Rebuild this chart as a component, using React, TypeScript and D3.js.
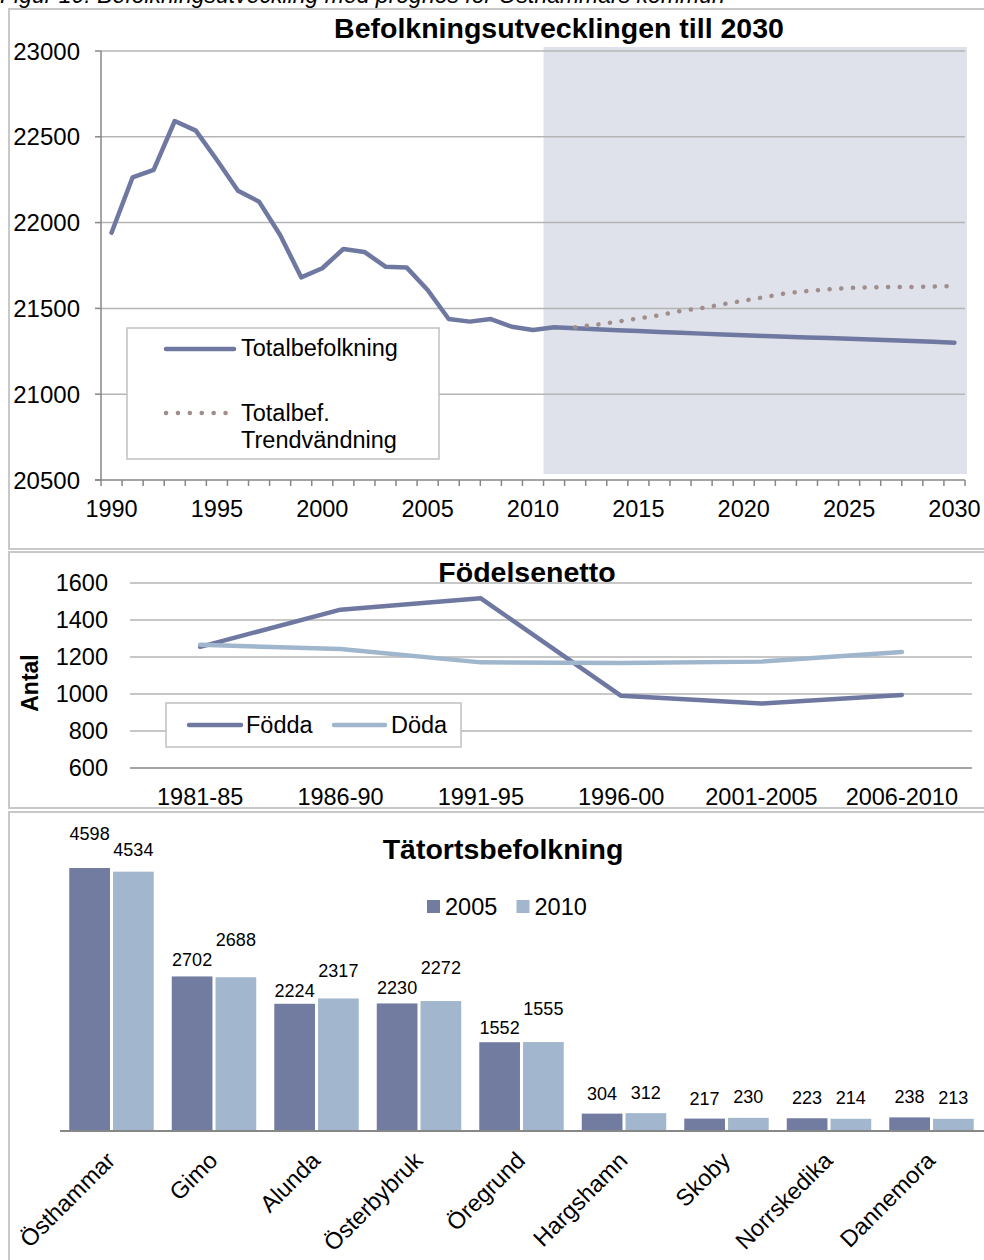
import { useRef, useEffect } from 'react';
import * as d3 from 'd3';

// Panel 1: Befolkningsutvecklingen till 2030
const years = [
  1990, 1991, 1992, 1993, 1994, 1995, 1996, 1997, 1998, 1999, 2000,
  2001, 2002, 2003, 2004, 2005, 2006, 2007, 2008, 2009, 2010,
  2011, 2012, 2013, 2014, 2015, 2016, 2017, 2018, 2019, 2020,
  2021, 2022, 2023, 2024, 2025, 2026, 2027, 2028, 2029, 2030,
];
const totalbefolkning = [
  21941, 22264, 22307, 22592, 22536, 22365, 22186, 22122, 21928, 21681, 21734,
  21846, 21829, 21743, 21739, 21607, 21438, 21423, 21438, 21393, 21374,
  21390, 21384, 21378, 21373, 21368, 21363, 21358, 21353, 21348, 21343,
  21339, 21335, 21331, 21327, 21323, 21319, 21315, 21310, 21305, 21300,
];
const trendYears = [
  2012, 2013, 2014, 2015, 2016, 2017, 2018, 2019, 2020, 2021,
  2022, 2023, 2024, 2025, 2026, 2027, 2028, 2029, 2030,
];
const trendvandning = [
  21390, 21405, 21423, 21442, 21460, 21485, 21502, 21524, 21545, 21566,
  21588, 21601, 21611, 21619, 21623, 21625, 21625, 21627, 21631,
];
const prognosPeriod = [2011, 2030];
const popTicks = [20500, 21000, 21500, 22000, 22500, 23000];

// Panel 2: Födelsenetto
const periods = ['1981-85', '1986-90', '1991-95', '1996-00', '2001-2005', '2006-2010'];
const fodda = [1255, 1456, 1517, 990, 948, 995];
const doda = [1266, 1243, 1171, 1168, 1175, 1227];
const antalTicks = [600, 800, 1000, 1200, 1400, 1600];

// Panel 3: Tätortsbefolkning
const orter = ['Östhammar', 'Gimo', 'Alunda', 'Österbybruk', 'Öregrund', 'Hargshamn', 'Skoby', 'Norrskedika', 'Dannemora'];
const bef2005 = [4598, 2702, 2224, 2230, 1552, 304, 217, 223, 238];
const bef2010 = [4534, 2688, 2317, 2272, 1555, 312, 230, 214, 213];
// label lift above bar top (labels were moved by hand in the original)
const lift2005 = [34, 17, 13, 16, 15, 20, 20, 21, 21];
const lift2010 = [22, 38, 28, 34, 34, 21, 21, 21, 21];

const FONT = '"Liberation Sans", Arial, Helvetica, sans-serif';
const C_LINE = '#6f78a0';
const C_LIGHT = '#9fb6cc';
const C_DOT = '#a18e8c';
const C_BAR05 = '#727ba0';
const C_BAR10 = '#a2b7cd';
const C_GRID = '#b5b5b5';
const C_AXIS = '#878787';
const C_BORDER = '#c8c8c8';
const FS = 23.5;

export default function App() {
  const svgRef = useRef<SVGSVGElement>(null);

  useEffect(() => {
    const svg = d3.select(svgRef.current);
    svg.selectAll('*').remove();
    svg.attr('font-family', FONT);

    // caption (cut off by the top of the image, as in the original)
    svg.append('text').attr('x', 0).attr('y', 3)
      .attr('font-size', 23).attr('font-style', 'italic').attr('fill', '#000')
      .text('Figur 10. Befolkningsutveckling med prognos för Östhammars kommun');

    // panel frames
    [[9, 549], [552, 808], [812, 1275]].forEach(([t, b]) => {
      svg.append('rect').attr('x', 9).attr('y', t).attr('width', 1000).attr('height', b - t)
        .attr('fill', '#fff').attr('stroke', C_BORDER).attr('stroke-width', 2);
    });

    // ---------- Panel 1 ----------
    const g1 = svg.append('g');
    const x1 = d3.scaleBand<number>().domain(years).range([101, 965]).padding(0);
    const bw1 = x1.bandwidth();
    const y1 = d3.scaleLinear().domain([20500, 23000]).range([480, 51]);
    const cx1 = (yr: number) => (x1(yr) as number) + bw1 / 2;

    // prognosis shading
    const sx0 = x1(prognosPeriod[0]) as number;
    const sx1 = (x1(prognosPeriod[1]) as number) + bw1 + 2;
    g1.append('rect').attr('x', sx0).attr('y', y1(23000) - 4)
      .attr('width', sx1 - sx0).attr('height', y1(20500) - y1(23000) - 2)
      .attr('fill', '#dfe2ea');

    popTicks.forEach((t) => {
      if (t !== 20500) {
        g1.append('line').attr('x1', 101).attr('x2', 965).attr('y1', y1(t)).attr('y2', y1(t))
          .attr('stroke', C_GRID).attr('stroke-width', 1.5);
      }
      g1.append('line').attr('x1', 95).attr('x2', 101).attr('y1', y1(t)).attr('y2', y1(t))
        .attr('stroke', C_AXIS).attr('stroke-width', 1.5);
      g1.append('text').attr('x', 80).attr('y', y1(t)).attr('dy', '0.36em')
        .attr('text-anchor', 'end').attr('font-size', 24).text(String(t));
    });
    g1.append('line').attr('x1', 101).attr('x2', 101).attr('y1', y1(23000)).attr('y2', y1(20500))
      .attr('stroke', C_AXIS).attr('stroke-width', 1.5);
    g1.append('line').attr('x1', 95).attr('x2', 965).attr('y1', y1(20500)).attr('y2', y1(20500))
      .attr('stroke', C_AXIS).attr('stroke-width', 1.5);
    years.forEach((yr, i) => {
      const xb = x1(yr) as number;
      g1.append('line').attr('x1', xb).attr('x2', xb).attr('y1', 480).attr('y2', 486)
        .attr('stroke', C_AXIS).attr('stroke-width', 1.5);
      if (i === years.length - 1) {
        g1.append('line').attr('x1', xb + bw1).attr('x2', xb + bw1).attr('y1', 480).attr('y2', 486)
          .attr('stroke', C_AXIS).attr('stroke-width', 1.5);
      }
      if (yr % 5 === 0) {
        g1.append('text').attr('x', cx1(yr)).attr('y', 517).attr('text-anchor', 'middle')
          .attr('font-size', FS).text(String(yr));
      }
    });

    const line1 = d3.line<number>().x((_, i) => cx1(years[i])).y((d) => y1(d));
    g1.append('path').attr('d', line1(totalbefolkning))
      .attr('fill', 'none').attr('stroke', C_LINE).attr('stroke-width', 4.5)
      .attr('stroke-linejoin', 'round').attr('stroke-linecap', 'round');
    const lineT = d3.line<number>().x((_, i) => cx1(trendYears[i])).y((d) => y1(d));
    g1.append('path').attr('d', lineT(trendvandning))
      .attr('fill', 'none').attr('stroke', C_DOT).attr('stroke-width', 4.5)
      .attr('stroke-dasharray', '0.1 11.6').attr('stroke-linecap', 'round');

    // legend 1
    g1.append('rect').attr('x', 127).attr('y', 328).attr('width', 312).attr('height', 131)
      .attr('fill', '#fff').attr('stroke', '#c0c0c0').attr('stroke-width', 1.5);
    g1.append('line').attr('x1', 166).attr('x2', 234).attr('y1', 349).attr('y2', 349)
      .attr('stroke', C_LINE).attr('stroke-width', 4.5).attr('stroke-linecap', 'round');
    g1.append('text').attr('x', 241).attr('y', 356).attr('font-size', FS).text('Totalbefolkning');
    g1.append('line').attr('x1', 166).attr('x2', 226).attr('y1', 413).attr('y2', 413)
      .attr('stroke', C_DOT).attr('stroke-width', 4.5)
      .attr('stroke-dasharray', '0.1 11.8').attr('stroke-linecap', 'round');
    g1.append('text').attr('x', 241).attr('y', 421).attr('font-size', FS).text('Totalbef.');
    g1.append('text').attr('x', 241).attr('y', 448).attr('font-size', FS).text('Trendvändning');

    g1.append('text').attr('x', 559).attr('y', 38).attr('text-anchor', 'middle')
      .attr('font-size', 28.5).attr('font-weight', 'bold').text('Befolkningsutvecklingen till 2030');

    // ---------- Panel 2 ----------
    const g2 = svg.append('g');
    const x2 = d3.scaleBand<string>().domain(periods).range([130, 972]).padding(0);
    const y2 = d3.scaleLinear().domain([600, 1600]).range([768, 583]);
    const cx2 = (p: string) => (x2(p) as number) + x2.bandwidth() / 2;

    antalTicks.forEach((t) => {
      g2.append('line').attr('x1', 130).attr('x2', 972).attr('y1', y2(t)).attr('y2', y2(t))
        .attr('stroke', t === 600 ? C_AXIS : C_GRID).attr('stroke-width', 1.5);
      g2.append('text').attr('x', 108).attr('y', y2(t)).attr('dy', '0.36em')
        .attr('text-anchor', 'end').attr('font-size', FS).text(String(t));
    });
    periods.forEach((p) => {
      g2.append('text').attr('x', cx2(p)).attr('y', 805).attr('text-anchor', 'middle')
        .attr('font-size', FS).text(p);
    });
    g2.append('text').attr('transform', 'translate(30,683) rotate(-90)').attr('dy', '0.36em')
      .attr('text-anchor', 'middle').attr('font-size', 23).attr('font-weight', 'bold').text('Antal');

    const line2 = d3.line<number>().x((_, i) => cx2(periods[i])).y((d) => y2(d));
    [[fodda, C_LINE], [doda, C_LIGHT]].forEach(([vals, col]) => {
      g2.append('path').attr('d', line2(vals as number[]))
        .attr('fill', 'none').attr('stroke', col as string).attr('stroke-width', 4.5)
        .attr('stroke-linejoin', 'round').attr('stroke-linecap', 'round');
    });

    g2.append('rect').attr('x', 166).attr('y', 703).attr('width', 295).attr('height', 44)
      .attr('fill', '#fff').attr('stroke', '#c0c0c0').attr('stroke-width', 1.5);
    g2.append('line').attr('x1', 189).attr('x2', 241).attr('y1', 725).attr('y2', 725)
      .attr('stroke', C_LINE).attr('stroke-width', 4.5).attr('stroke-linecap', 'round');
    g2.append('text').attr('x', 246).attr('y', 733).attr('font-size', FS).text('Födda');
    g2.append('line').attr('x1', 334).attr('x2', 385).attr('y1', 725).attr('y2', 725)
      .attr('stroke', C_LIGHT).attr('stroke-width', 4.5).attr('stroke-linecap', 'round');
    g2.append('text').attr('x', 391).attr('y', 733).attr('font-size', FS).text('Döda');

    g2.append('text').attr('x', 527).attr('y', 582).attr('text-anchor', 'middle')
      .attr('font-size', 28.5).attr('font-weight', 'bold').text('Födelsenetto');

    // ---------- Panel 3 ----------
    const g3 = svg.append('g');
    const x3 = d3.scaleBand<string>().domain(orter).range([60.25, 982.75])
      .paddingInner(0.176).paddingOuter(0.088);
    const x3s = d3.scaleBand<string>().domain(['2005', '2010']).range([0, x3.bandwidth()]).paddingInner(0.07);
    const y3 = d3.scaleLinear().domain([0, 5000]).range([1131, 845]);

    const series = [
      { key: '2005', vals: bef2005, lift: lift2005, col: C_BAR05 },
      { key: '2010', vals: bef2010, lift: lift2010, col: C_BAR10 },
    ];
    orter.forEach((o, i) => {
      series.forEach((s) => {
        const bx = (x3(o) as number) + (x3s(s.key) as number);
        const v = s.vals[i];
        g3.append('rect').attr('x', bx).attr('y', y3(v)).attr('width', x3s.bandwidth())
          .attr('height', y3(0) - y3(v)).attr('fill', s.col);
        g3.append('text').attr('x', bx + x3s.bandwidth() / 2).attr('y', y3(v) - s.lift[i])
          .attr('dy', '0.36em').attr('text-anchor', 'middle').attr('font-size', 18).text(String(v));
      });
      g3.append('text')
        .attr('transform', `translate(${(x3(o) as number) + x3.bandwidth() / 2 + 5},1162) rotate(-45)`)
        .attr('text-anchor', 'end').attr('font-size', 23.5).text(o);
    });
    g3.append('line').attr('x1', 60).attr('x2', 984).attr('y1', y3(0)).attr('y2', y3(0))
      .attr('stroke', C_AXIS).attr('stroke-width', 2);

    g3.append('text').attr('x', 503).attr('y', 859).attr('text-anchor', 'middle')
      .attr('font-size', 28.5).attr('font-weight', 'bold').text('Tätortsbefolkning');
    series.forEach((s, i) => {
      const lx = 427 + i * 89.5;
      g3.append('rect').attr('x', lx).attr('y', 900).attr('width', 13).attr('height', 13).attr('fill', s.col);
      g3.append('text').attr('x', lx + 18).attr('y', 915).attr('font-size', FS).text(s.key);
    });
  }, []);

  return (
    <svg ref={svgRef} width={984} height={1260} viewBox="0 0 984 1260"
      style={{ position: 'absolute', left: 0, top: 0, display: 'block', background: '#fff' }} />
  );
}
